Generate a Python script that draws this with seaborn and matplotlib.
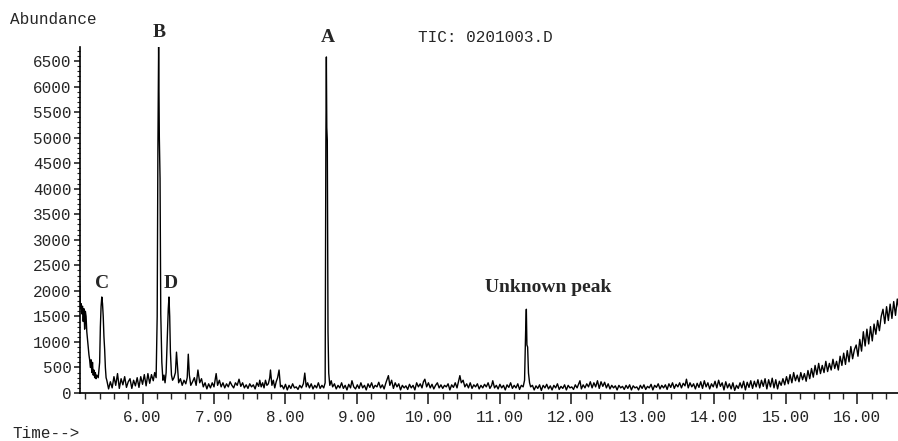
"""
Total ion chromatogram (TIC: 0201003.D) with labelled peaks A-D.
"""

import numpy as np
import matplotlib
matplotlib.use("Agg")
import matplotlib.pyplot as plt
from matplotlib.ticker import MultipleLocator, FormatStrFormatter
import seaborn as sns

# ===================================================================
# Data
# ===================================================================

# 5.12 - 7.00 min: solvent tail, peaks C, B, D
time_early = [
    5.12, 5.13, 5.14, 5.15, 5.16, 5.17, 5.18, 5.19, 5.20, 5.21, 5.22, 5.23, 5.24,
    5.25, 5.26, 5.27, 5.28, 5.29, 5.30, 5.31, 5.32, 5.33, 5.34, 5.35, 5.36, 5.38,
    5.40, 5.41, 5.42, 5.43, 5.44, 5.45, 5.46, 5.47, 5.48, 5.49,
    5.50, 5.525, 5.55, 5.575, 5.60, 5.625, 5.65, 5.675, 5.70, 5.725, 5.75, 5.775,
    5.80, 5.825, 5.85, 5.875, 5.90, 5.925, 5.95, 5.975, 6.00, 6.025, 6.05, 6.075,
    6.10, 6.125, 6.15, 6.17, 6.19,
    6.205, 6.215, 6.225, 6.235, 6.245, 6.255, 6.27, 6.285, 6.30, 6.315,
    6.33, 6.345, 6.36, 6.37, 6.38, 6.39, 6.405, 6.42, 6.44,
    6.46, 6.475, 6.49, 6.505, 6.53, 6.555, 6.58, 6.605, 6.625, 6.64, 6.655, 6.675,
    6.70, 6.725, 6.75, 6.775, 6.80, 6.825, 6.85, 6.875, 6.90, 6.925, 6.95, 6.975,
]
abund_early = [
    2150, 1650, 1750, 1550, 1700, 1400, 1650, 1250, 1600, 1500, 1200, 1050, 900,
    750, 650, 500, 650, 400, 600, 350, 450, 300, 400, 280, 350, 300,
    600, 1300, 1700, 1880, 1750, 1500, 1100, 850, 500, 300,
    250, 80, 220, 100, 320, 150, 380, 90, 280, 160, 320, 110,
    220, 280, 90, 250, 140, 300, 110, 320, 170, 360, 140, 380,
    190, 360, 240, 400, 300,
    1500, 4800, 6780, 5000, 4200, 1550, 600, 250, 350, 200,
    400, 1000, 1650, 1880, 1500, 800, 350, 250, 300,
    400, 800, 500, 200, 280, 150, 250, 180, 300, 760, 350, 150,
    220, 300, 150, 450, 200, 280, 120, 200, 80, 180, 100, 200,
]

# 7.00 - 11.45 min: baseline, peak A and the unknown peak
time_mid = [
    7.00, 7.03, 7.05, 7.075, 7.10, 7.125, 7.15, 7.175, 7.20, 7.225, 7.25, 7.275,
    7.30, 7.325, 7.35, 7.375, 7.40, 7.425, 7.45, 7.475, 7.50, 7.525, 7.55, 7.575,
    7.60, 7.625, 7.64, 7.66, 7.68, 7.70, 7.72, 7.74, 7.76, 7.78, 7.79, 7.81,
    7.83, 7.85, 7.87, 7.89, 7.91, 7.93, 7.95, 7.975, 8.00, 8.025, 8.05, 8.075,
    8.10, 8.125, 8.15, 8.175, 8.20, 8.225, 8.25, 8.27, 8.29, 8.31, 8.335, 8.36,
    8.385, 8.41, 8.435, 8.46, 8.485, 8.51, 8.535,
    8.555, 8.565, 8.572, 8.578, 8.585, 8.595, 8.605,
    8.62, 8.64, 8.66, 8.685, 8.71, 8.735, 8.76, 8.785, 8.81, 8.835, 8.86, 8.885,
    8.91, 8.93, 8.955, 8.98, 9.005, 9.03, 9.055, 9.08, 9.105, 9.13, 9.155, 9.18,
    9.205, 9.23, 9.255, 9.28, 9.305, 9.33, 9.355, 9.38, 9.405, 9.44, 9.46, 9.485,
    9.51, 9.535, 9.56, 9.585, 9.61, 9.635, 9.66, 9.685, 9.71, 9.735, 9.76, 9.785,
    9.81, 9.835, 9.86, 9.885, 9.91, 9.93, 9.95, 9.975, 10.00, 10.025, 10.05, 10.075,
    10.10, 10.125, 10.15, 10.175, 10.20, 10.225, 10.25, 10.275, 10.30, 10.325, 10.35,
    10.375, 10.40, 10.44, 10.46, 10.485, 10.51, 10.535, 10.56, 10.585, 10.61, 10.635,
    10.66, 10.685, 10.71, 10.735, 10.76, 10.785, 10.81, 10.835, 10.86, 10.885, 10.90,
    10.925, 10.95, 10.975, 11.00, 11.025, 11.05, 11.075, 11.10, 11.125, 11.15, 11.175,
    11.20, 11.225, 11.25, 11.275, 11.30, 11.325, 11.345,
    11.36, 11.37, 11.378, 11.388, 11.40, 11.415, 11.43,
]
abund_mid = [
    120, 380, 150, 250, 120, 200, 100, 180, 120, 220, 150, 100,
    200, 150, 270, 130, 200, 100, 160, 90, 180, 120, 160, 80,
    200, 130, 250, 120, 200, 100, 250, 150, 180, 300, 450, 150,
    250, 100, 220, 300, 450, 120, 150, 80, 170, 60, 150, 90,
    180, 100, 120, 70, 150, 100, 180, 390, 120, 200, 100, 180,
    80, 150, 100, 200, 90, 150, 100,
    200, 4900, 6580, 5200, 4950, 1200, 390,
    150, 240, 120, 180, 80, 150, 100, 200, 90, 150, 60, 170,
    100, 240, 120, 80, 160, 90, 200, 100, 150, 60, 180, 110,
    200, 90, 150, 120, 210, 100, 160, 80, 200, 340, 150, 250,
    90, 200, 120, 180, 60, 150, 100, 140, 70, 170, 100, 150,
    60, 200, 120, 180, 100, 220, 270, 120, 200, 100, 170, 80,
    150, 200, 100, 160, 90, 150, 120, 180, 60, 160, 110,
    200, 100, 340, 200, 250, 120, 180, 100, 200, 90, 160,
    120, 180, 80, 150, 100, 170, 120, 200, 90, 150, 240,
    100, 150, 80, 170, 100, 150, 60, 160, 110, 200, 90,
    150, 100, 180, 70, 150, 120, 250,
    1200, 1640, 940, 900, 390, 200, 120,
]

# 11.45 - 16.60 min: baseline and rising column bleed
time_late = [
    11.455, 11.48, 11.505, 11.53, 11.555, 11.58, 11.605, 11.63, 11.655, 11.68,
    11.705, 11.73, 11.755, 11.78, 11.805, 11.83, 11.855, 11.88, 11.905, 11.93,
    11.955, 11.98, 12.005, 12.03, 12.055, 12.08, 12.12, 12.14, 12.165, 12.19,
    12.215, 12.24, 12.265, 12.29, 12.315, 12.34, 12.365, 12.39, 12.415, 12.44,
    12.465, 12.49, 12.515, 12.54, 12.565, 12.59, 12.615, 12.64, 12.665, 12.69,
    12.715, 12.74, 12.765, 12.79, 12.815, 12.84, 12.865, 12.89, 12.915, 12.94,
    12.965, 12.99, 13.015, 13.04, 13.065, 13.09, 13.115, 13.14, 13.165, 13.19,
    13.215, 13.24, 13.265, 13.29, 13.315, 13.34, 13.365, 13.39, 13.415, 13.44,
    13.465, 13.49, 13.515, 13.54, 13.565, 13.59, 13.61, 13.635, 13.66, 13.685,
    13.71, 13.735, 13.76, 13.785, 13.81, 13.835, 13.86, 13.885, 13.91, 13.935,
    13.96, 13.985, 14.01, 14.035, 14.06, 14.085, 14.11, 14.135, 14.16, 14.185,
    14.21, 14.235, 14.26, 14.285, 14.31, 14.335, 14.36, 14.385, 14.41, 14.435,
    14.46, 14.485, 14.51, 14.535, 14.56, 14.585, 14.61, 14.635, 14.66, 14.685,
    14.71, 14.735, 14.76, 14.785, 14.81, 14.835, 14.86, 14.885, 14.91, 14.935,
    14.96, 14.985, 15.01, 15.035, 15.06, 15.085, 15.11, 15.135, 15.16, 15.185,
    15.21, 15.235, 15.26, 15.285, 15.31, 15.335, 15.36, 15.385, 15.41, 15.435,
    15.46, 15.485, 15.51, 15.535, 15.56, 15.585, 15.61, 15.635, 15.66, 15.685,
    15.71, 15.735, 15.76, 15.785, 15.81, 15.835, 15.86, 15.885, 15.91, 15.935,
    15.96, 15.985, 16.01, 16.035, 16.06, 16.085, 16.11, 16.135, 16.16, 16.185,
    16.21, 16.235, 16.26, 16.285, 16.31, 16.335, 16.36, 16.385, 16.41, 16.435,
    16.46, 16.485, 16.51, 16.535, 16.56, 16.585, 16.60,
]
abund_late = [
    150, 60, 140, 90, 160, 50, 150, 100, 170, 80,
    140, 60, 150, 100, 180, 70, 130, 90, 160, 60,
    150, 100, 120, 70, 160, 100, 240, 80, 160, 100,
    180, 120, 220, 100, 200, 120, 240, 90, 220, 130,
    210, 100, 180, 80, 150, 100, 140, 60, 150, 100,
    130, 70, 150, 90, 160, 60, 140, 100, 120, 60,
    150, 90, 160, 70, 130, 100, 170, 60, 150, 110,
    180, 80, 150, 100, 160, 70, 180, 110, 200, 90,
    170, 120, 200, 100, 190, 140, 270, 100, 200, 120,
    180, 80, 190, 110, 220, 90, 240, 120, 200, 80,
    180, 120, 230, 100, 250, 130, 200, 60, 220, 100,
    180, 80, 200, 50, 150, 90, 200, 100, 230, 60,
    210, 110, 240, 90, 230, 120, 260, 100, 250, 130,
    280, 80, 260, 120, 290, 100, 260, 80, 230, 150,
    280, 160, 320, 180, 360, 200, 400, 240, 350, 220,
    400, 260, 380, 230, 440, 280, 480, 310, 540, 360,
    580, 380, 540, 400, 620, 420, 580, 450, 660, 480,
    620, 450, 720, 540, 780, 560, 830, 610, 910, 670,
    850, 940, 720, 1050, 820, 1200, 920, 1250, 960, 1300,
    1020, 1350, 1150, 1420, 1220, 1500, 1640, 1360, 1690, 1420,
    1740, 1460, 1790, 1520, 1840, 1620, 1900,
]

# Peak labels: text and the (time, abundance) of the label centre
peak_labels = ["B", "A", "C", "D", "Unknown peak"]
label_times = [6.23, 8.587, 5.427, 6.399, 11.678]
label_abund = [7058, 6960, 2144, 2144, 2075]

X_MIN, X_MAX = 5.125, 16.57
Y_MIN, Y_MAX = 0, 6775

# ===================================================================
# Style
# ===================================================================

sns.set_style("ticks")
plt.rcParams["font.family"] = ["Liberation Mono", "DejaVu Sans Mono"]
MONO_SIZE = 11.5
SERIF = ["Liberation Serif", "DejaVu Serif"]


def plot_tic():
    time = np.array(time_early + time_mid + time_late)
    abund = np.array(abund_early + abund_mid + abund_late)

    fig = plt.figure(figsize=(8.98, 4.41), dpi=100)
    ax = fig.add_axes([80 / 898, 48 / 441, 818 / 898, 346 / 441])

    sns.lineplot(x=time, y=abund, ax=ax, color="black", linewidth=1.0,
                 estimator=None, sort=False)

    ax.set_xlim(X_MIN, X_MAX)
    ax.set_ylim(Y_MIN, Y_MAX)

    ax.xaxis.set_major_locator(MultipleLocator(1.0))
    ax.xaxis.set_minor_locator(MultipleLocator(0.2))
    ax.xaxis.set_major_formatter(FormatStrFormatter("%.2f"))
    ax.yaxis.set_major_locator(MultipleLocator(500))
    ax.yaxis.set_minor_locator(MultipleLocator(100))

    ax.tick_params(axis="x", which="major", direction="out", length=8,
                   width=1.2, pad=4, labelsize=MONO_SIZE)
    ax.tick_params(axis="x", which="minor", direction="out", length=4, width=1)
    ax.tick_params(axis="y", which="major", direction="out", length=4,
                   width=1.2, pad=2, labelsize=MONO_SIZE)
    ax.tick_params(axis="y", which="minor", direction="out", length=2.5, width=0.8)

    ax.set_xlabel("")
    ax.set_ylabel("")
    sns.despine(ax=ax, top=True, right=True)
    for side in ("left", "bottom"):
        ax.spines[side].set_linewidth(1.2)
        ax.spines[side].set_color("black")

    for text, t, a in zip(peak_labels, label_times, label_abund):
        ax.text(t, a, text, ha="center", va="center", fontsize=14,
                fontweight="bold", family=SERIF, clip_on=False)

    fig.text(10 / 898, 1 - 19 / 441, "Abundance", ha="left", va="center",
             fontsize=MONO_SIZE)
    fig.text(418 / 898, 1 - 38 / 441, "TIC: 0201003.D", ha="left",
             va="center", fontsize=MONO_SIZE)
    fig.text(12 / 898, 1 - 433 / 441, "Time-->", ha="left", va="center",
             fontsize=MONO_SIZE)

    fig.savefig("out.png", dpi=100, facecolor="white")
    plt.close(fig)


if __name__ == "__main__":
    plot_tic()
